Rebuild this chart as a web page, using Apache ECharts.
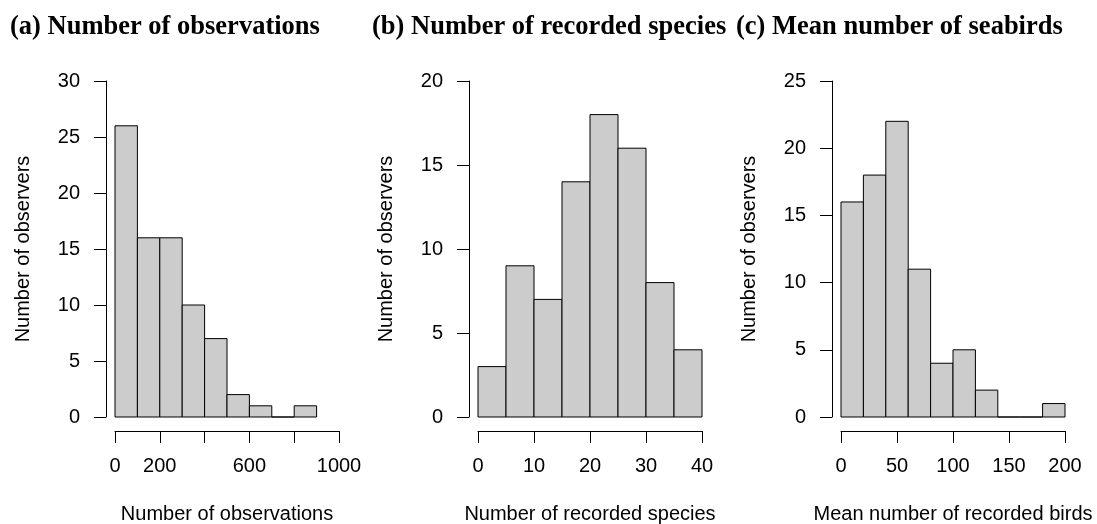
<!DOCTYPE html>
<html>
<head>
<meta charset="utf-8">
<script src="https://cdn.jsdelivr.net/npm/echarts@6/dist/echarts.min.js"></script>
<style>
  html, body { margin: 0; padding: 0; background: #fff; }
  #chart { width: 1097px; height: 524px; }
</style>
</head>
<body>
<div id="chart"></div>
<script>
// (a) observations per observer, bins of 100
var obsBreaks = [0, 100, 200, 300, 400, 500, 600, 700, 800, 900];
var obsCounts = [26, 16, 16, 10, 7, 2, 1, 0, 1];
var obsXLabels = ['0', '200', '600', '1000'];

// (b) recorded species, bins of 5
var spBreaks = [0, 5, 10, 15, 20, 25, 30, 35, 40];
var spCounts = [3, 9, 7, 14, 18, 16, 8, 4];

// (c) mean number of seabirds, bins of 20
var birdBreaks = [0, 20, 40, 60, 80, 100, 120, 140, 160, 180, 200];
var birdCounts = [16, 18, 22, 11, 4, 5, 2, 0, 0, 1];

var titles = ['(a) Number of observations', '(b) Number of recorded species', '(c) Mean number of seabirds'];
var xNames = ['Number of observations', 'Number of recorded species', 'Mean number of recorded birds'];
var yName = 'Number of observers';

var sans = 'Liberation Sans, Arial, sans-serif';
var serif = 'Liberation Serif, Times New Roman, serif';

function toBins(breaks, counts) {
  var out = [];
  for (var i = 0; i < counts.length; i++) out.push([breaks[i], breaks[i + 1], counts[i]]);
  return out;
}

function renderBar(params, api) {
  var p0 = api.coord([api.value(0), api.value(2)]);
  var p1 = api.coord([api.value(1), 0]);
  return {
    type: 'rect',
    shape: { x: p0[0], y: p0[1], width: p1[0] - p0[0], height: p1[1] - p0[1] },
    style: { fill: '#cccccc', stroke: '#000', lineWidth: 1 }
  };
}

function xAxisOf(idx, max, interval, labels) {
  return {
    gridIndex: idx, type: 'value', min: 0, max: max, interval: interval,
    offset: 14,
    name: xNames[idx], nameLocation: 'middle', nameGap: 73,
    nameTextStyle: { fontFamily: sans, fontSize: 20, color: '#000' },
    axisLine: { show: true, onZero: false, lineStyle: { color: '#000', width: 1 } },
    axisTick: { show: true, length: 12, lineStyle: { color: '#000' } },
    axisLabel: {
      fontFamily: sans, fontSize: 20, color: '#000', margin: 25,
      showMinLabel: true, showMaxLabel: true, hideOverlap: false,
      formatter: function (v) {
        var s = String(v);
        if (labels && labels.indexOf(s) < 0) return '';
        return s;
      }
    },
    splitLine: { show: false }
  };
}

function yAxisOf(idx, max) {
  return {
    gridIndex: idx, type: 'value', min: 0, max: max, interval: 5,
    offset: 9,
    name: yName, nameLocation: 'middle', nameGap: 73, nameRotate: 90,
    nameTextStyle: { fontFamily: sans, fontSize: 20, color: '#000' },
    axisLine: { show: true, onZero: false, lineStyle: { color: '#000', width: 1 } },
    axisTick: { show: true, length: 12, lineStyle: { color: '#000' } },
    axisLabel: { fontFamily: sans, fontSize: 20, color: '#000', margin: 26 },
    splitLine: { show: false }
  };
}

var chart = echarts.init(document.getElementById('chart'));
chart.setOption({
  animation: false,
  backgroundColor: '#fff',
  title: [
    { text: titles[0], left: 10, top: 14 },
    { text: titles[1], left: 372, top: 14 },
    { text: titles[2], left: 736, top: 14 }
  ].map(function (t) {
    t.padding = 0;
    t.textStyle = { fontFamily: serif, fontSize: 26.5, fontWeight: 'bold', color: '#000' };
    return t;
  }),
  grid: [
    { left: 115, top: 81, width: 224, height: 336, outerBoundsMode: 'none' },
    { left: 478, top: 81, width: 224, height: 336, outerBoundsMode: 'none' },
    { left: 841, top: 81, width: 224, height: 336, outerBoundsMode: 'none' }
  ],
  xAxis: [
    xAxisOf(0, 1000, 200, obsXLabels),
    xAxisOf(1, 40, 10, null),
    xAxisOf(2, 200, 50, null)
  ],
  yAxis: [
    yAxisOf(0, 30),
    yAxisOf(1, 20),
    yAxisOf(2, 25)
  ],
  series: [
    { type: 'custom', xAxisIndex: 0, yAxisIndex: 0, renderItem: renderBar, data: toBins(obsBreaks, obsCounts) },
    { type: 'custom', xAxisIndex: 1, yAxisIndex: 1, renderItem: renderBar, data: toBins(spBreaks, spCounts) },
    { type: 'custom', xAxisIndex: 2, yAxisIndex: 2, renderItem: renderBar, data: toBins(birdBreaks, birdCounts) }
  ]
});
</script>
</body>
</html>
